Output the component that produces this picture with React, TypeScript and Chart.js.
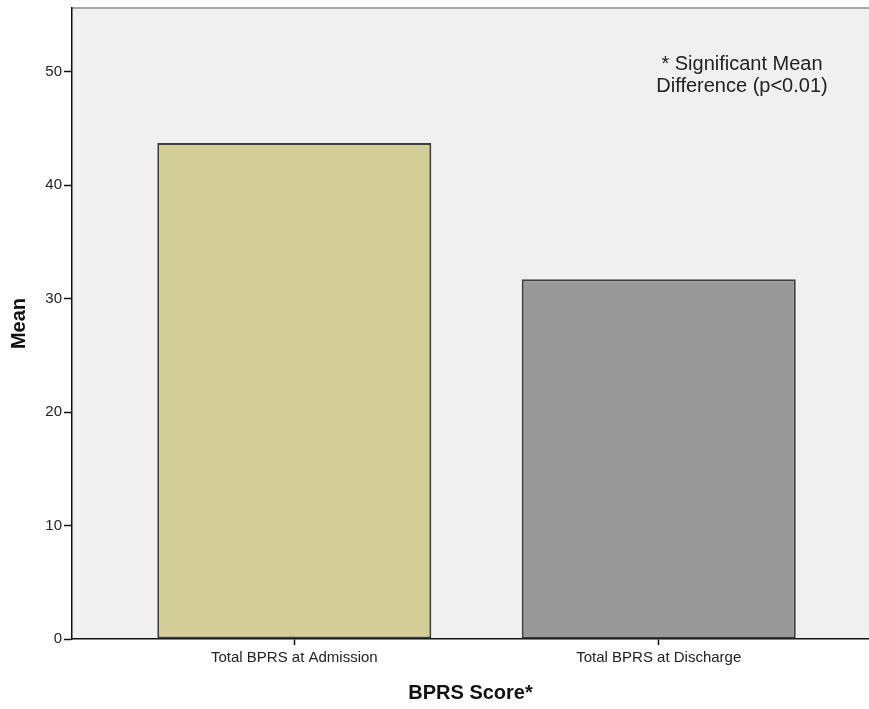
import React, { useEffect, useRef } from "react";
import { Chart, registerables } from "chart.js";

Chart.register(...registerables);

// Mean BPRS totals at the two assessment points
const categories = ["Total BPRS at Admission", "Total BPRS at Discharge"];
const means = [43.7, 31.7];
const barColors = ["#D3CE98", "#999999"];
const yTicks = [0, 10, 20, 30, 40, 50];
const noteLines = ["* Significant Mean", "Difference (p<0.01)"];

const FONT = "'Liberation Sans', Arial, sans-serif";

// Grey plot panel with a thin top rule, plus the significance note
const panelPlugin = {
  id: "panel",
  beforeDraw(chart: any) {
    const { ctx, chartArea } = chart;
    const { left, top, right, bottom } = chartArea;
    ctx.save();
    ctx.fillStyle = "#F0F0F0";
    ctx.fillRect(left, top, right - left, bottom - top);
    ctx.strokeStyle = "#8C8C8C";
    ctx.lineWidth = 1.5;
    ctx.beginPath();
    ctx.moveTo(left, top);
    ctx.lineTo(right, top);
    ctx.stroke();
    ctx.restore();
  },
  afterDraw(chart: any) {
    const { ctx } = chart;
    ctx.save();
    ctx.fillStyle = "#222222";
    ctx.font = `20px ${FONT}`;
    ctx.textAlign = "center";
    ctx.textBaseline = "middle";
    ctx.fillText(noteLines[0], 742, 64);
    ctx.fillText(noteLines[1], 742, 86);
    ctx.restore();
  },
};

export default function App() {
  const canvasRef = useRef<HTMLCanvasElement | null>(null);

  useEffect(() => {
    const canvas = canvasRef.current;
    if (!canvas) return;
    const chart = new Chart(canvas, {
      type: "bar",
      data: {
        datasets: [
          {
            data: means.map((v, i) => ({ x: i, y: v })),
            backgroundColor: barColors,
            borderColor: "#3E3E3E",
            borderWidth: 2,
            borderSkipped: false,
            barPercentage: 0.752,
            categoryPercentage: 1,
          },
        ],
      },
      options: {
        responsive: false,
        animation: false,
        devicePixelRatio: 1,
        layout: { padding: { top: 8, right: 0, left: 0, bottom: 0 } },
        plugins: {
          legend: { display: false },
          tooltip: { enabled: false },
        },
        scales: {
          x: {
            type: "linear",
            offset: false,
            min: -0.61,
            max: 1.577,
            afterBuildTicks: (scale: any) => {
              scale.ticks = categories.map((_, i) => ({ value: i }));
            },
            afterFit: (scale: any) => {
              scale.height = 70;
              scale.paddingLeft = 0;
              scale.paddingRight = 0;
            },
            ticks: {
              callback: (v: any) => categories[Number(v)] ?? "",
              color: "#222222",
              font: { family: FONT, size: 15 },
              padding: 4,
              maxRotation: 0,
              autoSkip: false,
            },
            grid: {
              offset: false,
              drawOnChartArea: false,
              drawTicks: true,
              tickLength: 6,
              tickColor: "#111111",
              tickWidth: 1.5,
            },
            border: { display: true, color: "#111111", width: 1.5 },
            title: {
              display: true,
              text: "BPRS Score*",
              color: "#111111",
              font: { family: FONT, size: 20, weight: "bold" },
              padding: { top: 0, bottom: 4 },
            },
          },
          y: {
            min: 0,
            max: 55.6,
            afterBuildTicks: (scale: any) => {
              scale.ticks = yTicks.map((v) => ({ value: v }));
            },
            afterFit: (scale: any) => {
              scale.width = 72;
              scale.paddingTop = 0;
              scale.paddingBottom = 0;
            },
            ticks: {
              color: "#222222",
              font: { family: FONT, size: 15 },
              padding: 2,
            },
            grid: {
              drawOnChartArea: false,
              drawTicks: true,
              tickLength: 8,
              tickColor: "#111111",
              tickWidth: 1.5,
            },
            border: { display: true, color: "#111111", width: 1.5 },
            title: {
              display: true,
              text: "Mean",
              color: "#111111",
              font: { family: FONT, size: 20, weight: "bold" },
              padding: { top: 7, bottom: 0 },
            },
          },
        },
      },
      plugins: [panelPlugin],
    });
    return () => chart.destroy();
  }, []);

  return (
    <div style={{ position: "absolute", left: 0, top: 0, width: 869, height: 709, background: "#ffffff" }}>
      <canvas ref={canvasRef} width={869} height={709} />
    </div>
  );
}
